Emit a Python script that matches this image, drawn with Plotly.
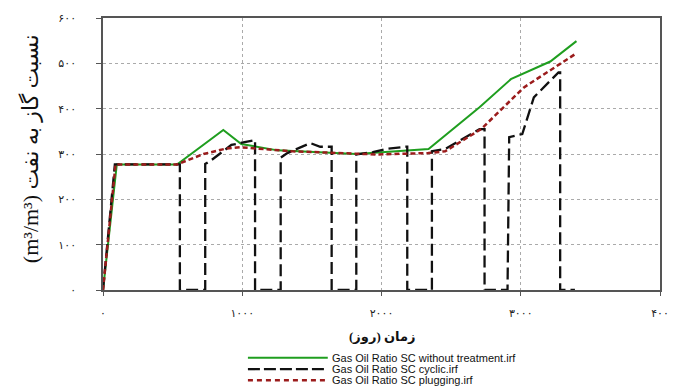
import plotly.graph_objects as go

# ---- data (days, GOR m3/m3) ----
green_x = [0, 99, 531, 864, 993, 1253, 1819, 2173, 2338, 2704, 2929, 3212, 3400]
green_y = [0, 277, 277, 353, 322, 308, 300, 308, 311, 403, 465, 504, 549]

black_x = [0, 85, 531, 552, 552, 734, 734, 781, 922, 1076, 1092, 1092, 1276, 1276, 1324,
           1489, 1560, 1642, 1642, 1819, 1819, 1938, 2032, 2173, 2185, 2185, 2362, 2362,
           2457, 2704, 2740, 2740, 2905, 2917, 3011, 3094, 3271, 3283, 3283, 3389]
black_y = [0, 277, 277, 277, 0, 0, 278, 287, 320, 331, 331, 0, 0, 292, 302,
           324, 316, 316, 0, 0, 299, 304, 311, 316, 316, 0, 0, 306,
           311, 355, 355, 0, 0, 337, 344, 425, 480, 480, 0, 0]

red_x = [0, 90, 531, 722, 885, 982, 1359, 1961, 2336, 2457, 2716, 3023, 3389]
red_y = [0, 277, 277, 300, 312, 315, 306, 299, 302, 306, 355, 447, 520]

series_names = ["Gas Oil Ratio SC without treatment.irf",
                "Gas Oil Ratio SC cyclic.irf",
                "Gas Oil Ratio SC plugging.irf"]

x_tickvals = [0, 1000, 2000, 3000, 4000]
x_ticktext = ["۰", "۱۰۰۰", "۲۰۰۰", "۳۰۰۰", "۴۰۰"]
y_tickvals = [0, 100, 200, 300, 400, 500, 600]
y_ticktext = ["۰", "۱۰۰", "۲۰۰", "۳۰۰", "۴۰۰", "۵۰۰", "۶۰۰"]

x_title = "زمان (روز)"
y_title = "(m³/m³) نسبت گاز به نفت"

colors = ["#1f9e1f", "#111111", "#9b1c1c"]
dashes = ["solid", "12px,5px", "5px,3px"]
widths = [2, 2.3, 2.5]

fig = go.Figure()
for xs, ys, name, c, d, w in zip([green_x, black_x, red_x], [green_y, black_y, red_y],
                                 series_names, colors, dashes, widths):
    fig.add_trace(go.Scatter(x=xs, y=ys, mode="lines", name=name,
                             line=dict(color=c, dash=d, width=w), showlegend=False))

serif = "Times New Roman, Liberation Serif, DejaVu Sans, serif"

fig.update_layout(
    width=681, height=390,
    margin=dict(l=103, r=13, t=17, b=100),
    paper_bgcolor="white", plot_bgcolor="white",
    xaxis=dict(range=[0, 4000], tickvals=x_tickvals, ticktext=x_ticktext,
               showline=True, mirror=True, linecolor="#555", linewidth=1.5,
               ticks="outside", ticklen=4, tickcolor="#555",
               showgrid=True, gridcolor="#aaa", griddash="dot", gridwidth=1,
               zeroline=False, tickfont=dict(family=serif, size=11, color="#222"),
               ticklabelstandoff=8),
    yaxis=dict(range=[0, 600], tickvals=y_tickvals, ticktext=y_ticktext,
               showline=True, mirror=True, linecolor="#555", linewidth=1.5,
               ticks="outside", ticklen=5, tickcolor="#555",
               showgrid=True, gridcolor="#aaa", griddash="dot", gridwidth=1,
               zeroline=False, tickfont=dict(family=serif, size=11, color="#222"),
               ticklabelstandoff=18),
)

annotations = [
    dict(text=y_title, xref="paper", yref="paper", x=-0.13, y=0.52,
         xanchor="center", yanchor="middle", textangle=-90, showarrow=False,
         font=dict(family=serif, size=22, color="#111")),
    dict(text="<b>" + x_title + "</b>", xref="paper", yref="paper", x=0.5, y=-0.172,
         xanchor="center", yanchor="middle", showarrow=False,
         font=dict(family=serif, size=13, color="#111")),
]

# custom legend
row_y = [-0.249, -0.291, -0.3315]
lx0, lx1, ltx = (250 - 103) / 565, (331 - 103) / 565, (333 - 103) / 565
shapes = []
leg_dashes = ["solid", "12px,4px", "5px,4px"]
for name, c, d, w, ry in zip(series_names, colors, leg_dashes, widths, row_y):
    shapes.append(dict(type="line", xref="paper", yref="paper", x0=lx0, x1=lx1,
                       y0=ry, y1=ry, line=dict(color=c, dash=d, width=w)))
    annotations.append(dict(text=name, xref="paper", yref="paper", x=ltx, y=ry,
                            xanchor="left", yanchor="middle", showarrow=False,
                            font=dict(family="Arial, Liberation Sans", size=11, color="#111")))

fig.update_layout(annotations=annotations, shapes=shapes)
fig.write_html("out.html")
